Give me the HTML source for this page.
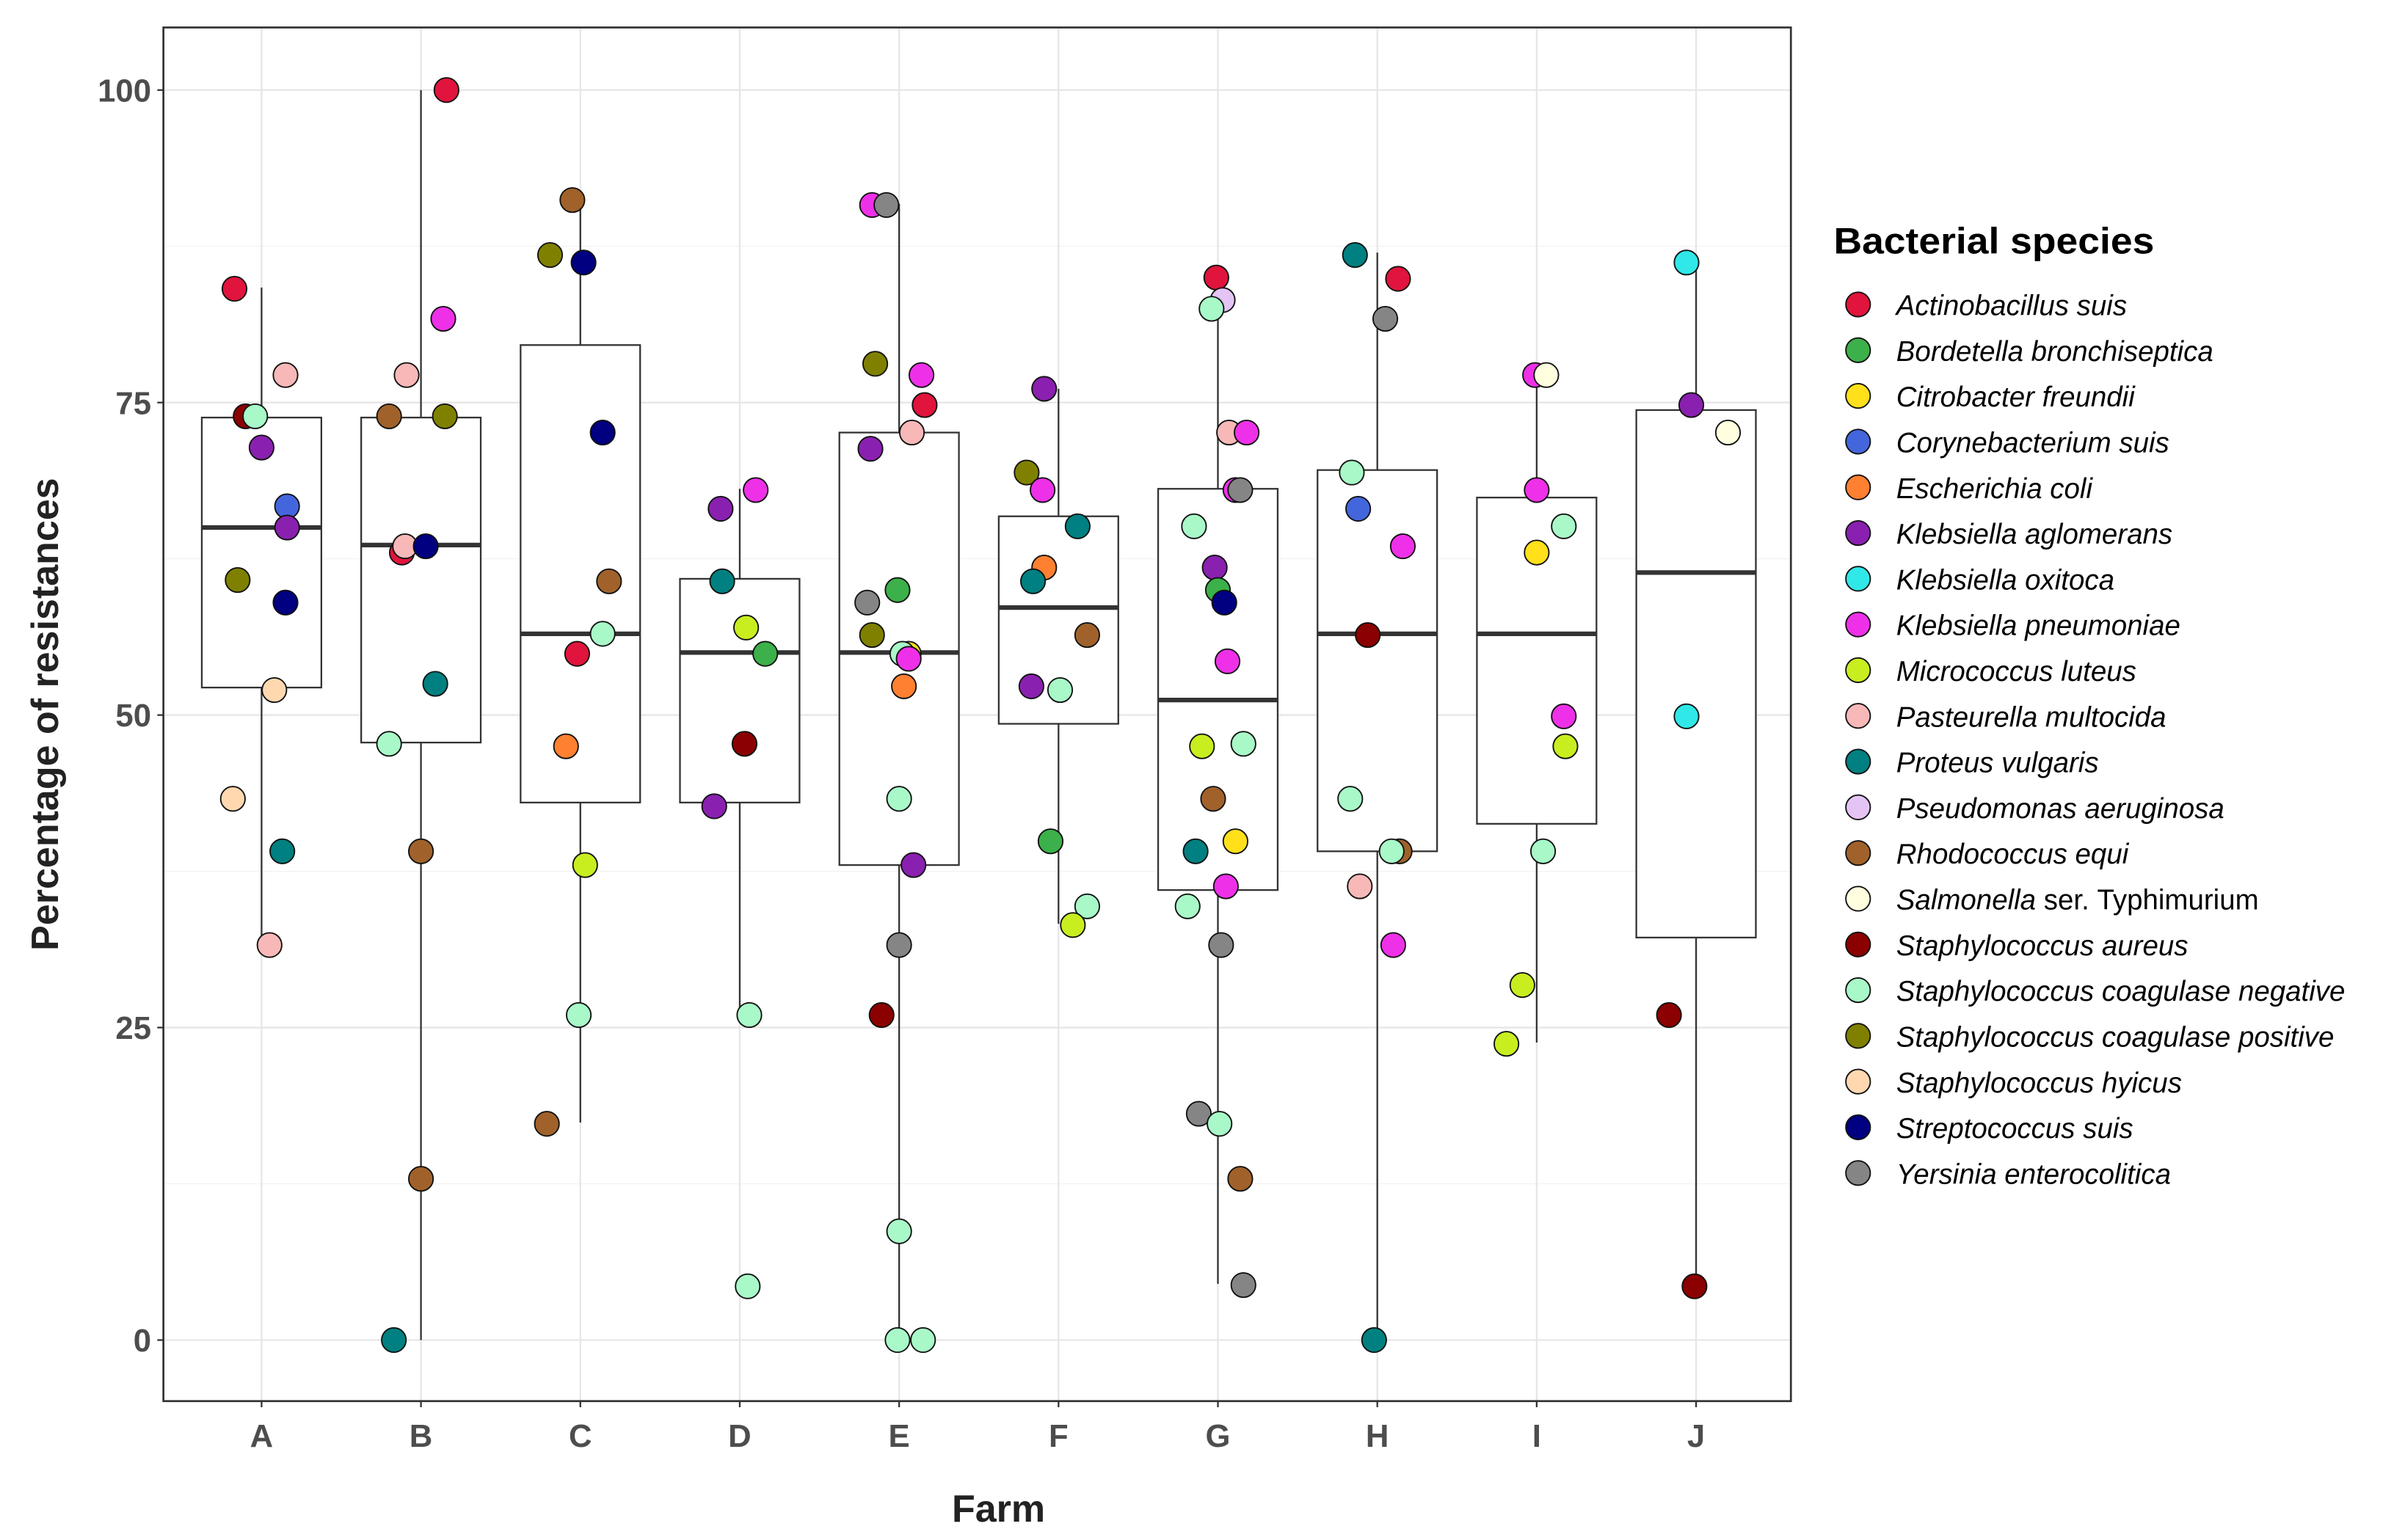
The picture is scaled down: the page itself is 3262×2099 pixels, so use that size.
<!DOCTYPE html>
<html><head><meta charset="utf-8"><style>
html,body{margin:0;padding:0;background:#fff;}
svg{display:block;}
text{font-family:"Liberation Sans",sans-serif;}
</style></head><body>
<svg id="chart" width="3262" height="2099" viewBox="0 0 1568 1009" xmlns="http://www.w3.org/2000/svg">
<g id="grid"></g>
<g id="boxes"></g>
<g id="points"></g>
<rect x="107" y="18" width="1066" height="900" fill="none" stroke="#333" stroke-width="1.3"/>
<g id="axes"></g>
<text x="654" y="997" text-anchor="middle" font-size="25" font-weight="bold" fill="#222">Farm</text>
<text transform="translate(38,468) rotate(-90)" text-anchor="middle" font-size="25" font-weight="bold" fill="#222">Percentage of resistances</text>
<g id="legend">
<text x="1201" y="166" font-size="24" font-weight="bold" fill="#000" textLength="210" lengthAdjust="spacingAndGlyphs">Bacterial species</text>
</g>
</svg>
<script>
const farms = ["A","B","C","D","E","F","G","H","I","J"];
const whiskLo = [31.9, 0, 17.4, 26.1, 0, 33.3, 4.5, 0, 23.8, 4.4];
const q1 = [52.2, 47.8, 43.0, 43.0, 38.0, 49.3, 36.0, 39.1, 41.3, 32.2];
const medians = [65.0, 63.6, 56.5, 55.0, 55.0, 58.6, 51.2, 56.5, 56.5, 61.4];
const q3 = [73.8, 73.8, 79.6, 60.9, 72.6, 65.9, 68.1, 69.6, 67.4, 74.4];
const whiskHi = [84.2, 100, 91.3, 68.1, 90.9, 76.1, 83.0, 87.0, 77.2, 86.4];
const yTicks = [0, 25, 50, 75, 100];
const species = ["Actinobacillus suis","Bordetella bronchiseptica","Citrobacter freundii","Corynebacterium suis","Escherichia coli","Klebsiella aglomerans","Klebsiella oxitoca","Klebsiella pneumoniae","Micrococcus luteus","Pasteurella multocida","Proteus vulgaris","Pseudomonas aeruginosa","Rhodococcus equi","Salmonella ser. Typhimurium","Staphylococcus aureus","Staphylococcus coagulase negative","Staphylococcus coagulase positive","Staphylococcus hyicus","Streptococcus suis","Yersinia enterocolitica"];
const speciesColors = ["#E0143C","#3CB04A","#FFE01A","#4466DD","#FF8030","#8A20B0","#30E8E8","#EE30E8","#C8EE20","#F8B8B8","#008080","#E4C4F4","#A0622A","#FFFFE0","#8B0000","#A8F8C8","#808000","#FFD8B0","#000080","#858585"];
// points: farm index, jitter (farm units), value, species index
const ptFarm = [
 0,0,0,0,0, 0,0,0,0,0, 0,0,0,
 1,1,1,1,1, 1,1,1,1,1, 1,1,1,
 2,2,2,2,2, 2,2,2,2,2, 2,
 3,3,3,3,3, 3,3,3,3,
 4,4,4,4,4, 4,4,4,4,4, 4,4,4,4,4, 4,4,4,4,4, 4,
 5,5,5,5,5, 5,5,5,5,5, 5,5,
 6,6,6,6,6,6, 6,6,6,6,6,6, 6,6,6,6,6,6, 6,6,6,6,6,6,
 7,7,7,7,7, 7,7,7,7,7, 7,7,7,
 8,8,8,8,8, 8,8,8,8,8,
 9,9,9,9,9,9];
const ptJitter = [-0.17,-0.10,-0.04,0.00,0.15,0.16,0.16,-0.15,0.15,0.08,-0.18,0.13,0.05,
 0.16,0.14,-0.09,-0.20,0.15,-0.12,-0.10,0.03,0.09,-0.20,0.00,0.00,-0.17,
 -0.05,-0.19,0.02,0.14,0.18,0.14,-0.02,-0.09,0.03,-0.01,-0.21,
 -0.12,0.10,-0.11,0.04,0.16,0.03,-0.16,0.06,0.05,
 -0.17,-0.08,0.14,-0.15,0.16,0.08,-0.18,-0.01,-0.20,-0.17,0.06,0.02,0.06,0.03,0.00,0.09,0.00,-0.11,0.00,-0.01,0.15,
 -0.09,-0.20,-0.10,-0.09,0.12,-0.16,0.18,-0.17,0.01,-0.05,0.18,0.09,
 -0.01,0.03,-0.04,0.07,0.18,0.11,0.14,-0.15,-0.02,0.00,0.04,0.06,-0.10,0.16,-0.03,0.11,-0.14,0.05,-0.19,0.02,-0.12,0.01,0.14,0.16,
 -0.14,0.13,0.05,-0.16,-0.12,0.16,-0.06,-0.17,0.14,0.09,-0.11,0.10,-0.02,
 -0.01,0.06,0.00,0.17,0.00,0.17,0.18,0.04,-0.09,-0.19,
 -0.06,-0.03,0.20,-0.06,-0.17,-0.01];
const ptValue = [84.1,73.9,73.9,71.4,77.2,66.7,65.0,60.8,59.0,52.0,43.3,39.1,31.6,
 100,81.7,77.2,73.9,73.9,63.0,63.5,63.5,52.5,47.7,39.1,12.9,0,
 91.2,86.8,86.2,72.6,60.7,56.5,54.9,47.5,38.0,26.0,17.3,
 66.5,68.0,60.7,57.0,54.9,47.7,42.7,26.0,4.3,
 90.8,90.8,77.2,78.1,74.8,72.6,71.3,60.0,59.0,56.4,54.9,54.9,54.5,52.3,43.3,38.0,31.6,26.0,8.7,0,0,
 76.1,69.4,68.0,61.8,65.1,60.7,56.4,52.3,52.0,39.9,34.7,33.2,
 85.0,83.2,82.5,72.6,72.6,68.0,68.0,65.1,61.8,60.0,59.0,54.3,47.5,47.7,43.3,39.9,39.1,36.3,34.7,31.6,18.1,17.3,12.9,4.4,
 86.8,84.9,81.7,69.4,66.5,63.5,56.4,43.3,39.1,39.1,36.3,31.6,0,
 77.2,77.2,68.0,65.1,63.0,49.9,47.5,39.1,28.4,23.7,
 86.2,74.8,72.6,49.9,26.0,4.3];
const ptSpecies = [0,14,15,5,9,3,5,16,18,17,17,10,9,
 0,7,9,12,16,0,9,18,10,15,12,12,10,
 12,16,18,18,12,15,0,4,8,15,12,
 5,7,10,8,1,14,5,15,15,
 7,19,7,16,0,9,5,1,19,16,2,15,7,4,15,5,19,14,15,15,15,
 5,16,7,4,10,10,12,5,15,1,15,8,
 0,11,15,9,7,7,19,15,5,1,18,7,8,15,12,2,10,7,15,19,19,15,12,19,
 10,0,19,15,3,7,14,15,12,15,9,7,10,
 7,13,7,15,2,7,8,15,8,8,
 6,5,13,6,14,14];

const NS="http://www.w3.org/2000/svg";
const X0=171.3, DX=104.4;
const xs = i => X0 + i*DX;
const ys = v => 878 - v*8.19;
function mk(tag, attrs, parent){const e=document.createElementNS(NS,tag);for(const k in attrs)e.setAttribute(k,attrs[k]);parent.appendChild(e);return e;}
const grid=document.getElementById('grid'), boxes=document.getElementById('boxes'), pts=document.getElementById('points'), axes=document.getElementById('axes'), legend=document.getElementById('legend');
mk('rect',{x:107,y:18,width:1066,height:900,fill:'#fff'},grid);
for(let v=-12.5; v<=112.5; v+=12.5){
  const y=ys(v); if(y<18||y>918) continue;
  const major = yTicks.includes(v);
  const l=mk('line',{x1:107,x2:1173,y1:y,y2:y,stroke:major?'#e6e6e6':'#f2f2f2','stroke-width':major?1.1:0.6},grid);
  
  
}
farms.forEach((f,i)=>{
  const l=mk('line',{x1:xs(i),x2:xs(i),y1:18,y2:918,stroke:'#e6e6e6','stroke-width':1.1},grid);
  
  
});
farms.forEach((f,i)=>{
  const g=mk('g',{},boxes);
  
  
  const x=xs(i), hw=0.375*DX;
  mk('line',{x1:x,x2:x,y1:ys(whiskHi[i]),y2:ys(q3[i]),stroke:'#333','stroke-width':1.1},g);
  mk('line',{x1:x,x2:x,y1:ys(q1[i]),y2:ys(whiskLo[i]),stroke:'#333','stroke-width':1.1},g);
  mk('rect',{x:x-hw,y:ys(q3[i]),width:2*hw,height:ys(q1[i])-ys(q3[i]),fill:'#fff',stroke:'#333','stroke-width':1.1},g);
  mk('line',{x1:x-hw,x2:x+hw,y1:ys(medians[i]),y2:ys(medians[i]),stroke:'#333','stroke-width':3},g);
});
ptValue.forEach((v,k)=>{
  const c=mk('circle',{cx:xs(ptFarm[k]+ptJitter[k]),cy:ys(v),r:8,fill:speciesColors[ptSpecies[k]],stroke:'#111','stroke-width':0.9},pts);
  
  
});
yTicks.forEach(v=>{
  mk('line',{x1:103,x2:107,y1:ys(v),y2:ys(v),stroke:'#333','stroke-width':1.1},axes);
  const t=mk('text',{x:99,y:ys(v)+7.5,'text-anchor':'end','font-size':21,'font-weight':'bold',fill:'#4d4d4d'},axes);
  t.textContent=v;
  
  
});
farms.forEach((f,i)=>{
  mk('line',{x1:xs(i),x2:xs(i),y1:918,y2:922,stroke:'#333','stroke-width':1.1},axes);
  const t=mk('text',{x:xs(i),y:948,'text-anchor':'middle','font-size':21,'font-weight':'bold',fill:'#4d4d4d'},axes);
  t.textContent=f;
  
  
});
species.forEach((s,i)=>{
  const y=199.5+i*29.95;
  const g=mk('g',{},legend);
  
  
  mk('circle',{cx:1217,cy:y,r:8,fill:speciesColors[i],stroke:'#111','stroke-width':0.9},g);
  const t=mk('text',{x:1242,y:y+7,'font-size':18.5,'font-style':'italic',fill:'#000'},g);
  if(s.indexOf(' ser. ')>0){
    const a=s.split(' ser. ');
    const t1=mk('tspan',{},t); t1.textContent=a[0]+' ';
    const t2=mk('tspan',{'font-style':'normal'},t); t2.textContent='ser. ';
    const t3=mk('tspan',{'font-style':'normal'},t); t3.textContent=a[1];
  } else t.textContent=s;
  
  
});
</script>
</body></html>
